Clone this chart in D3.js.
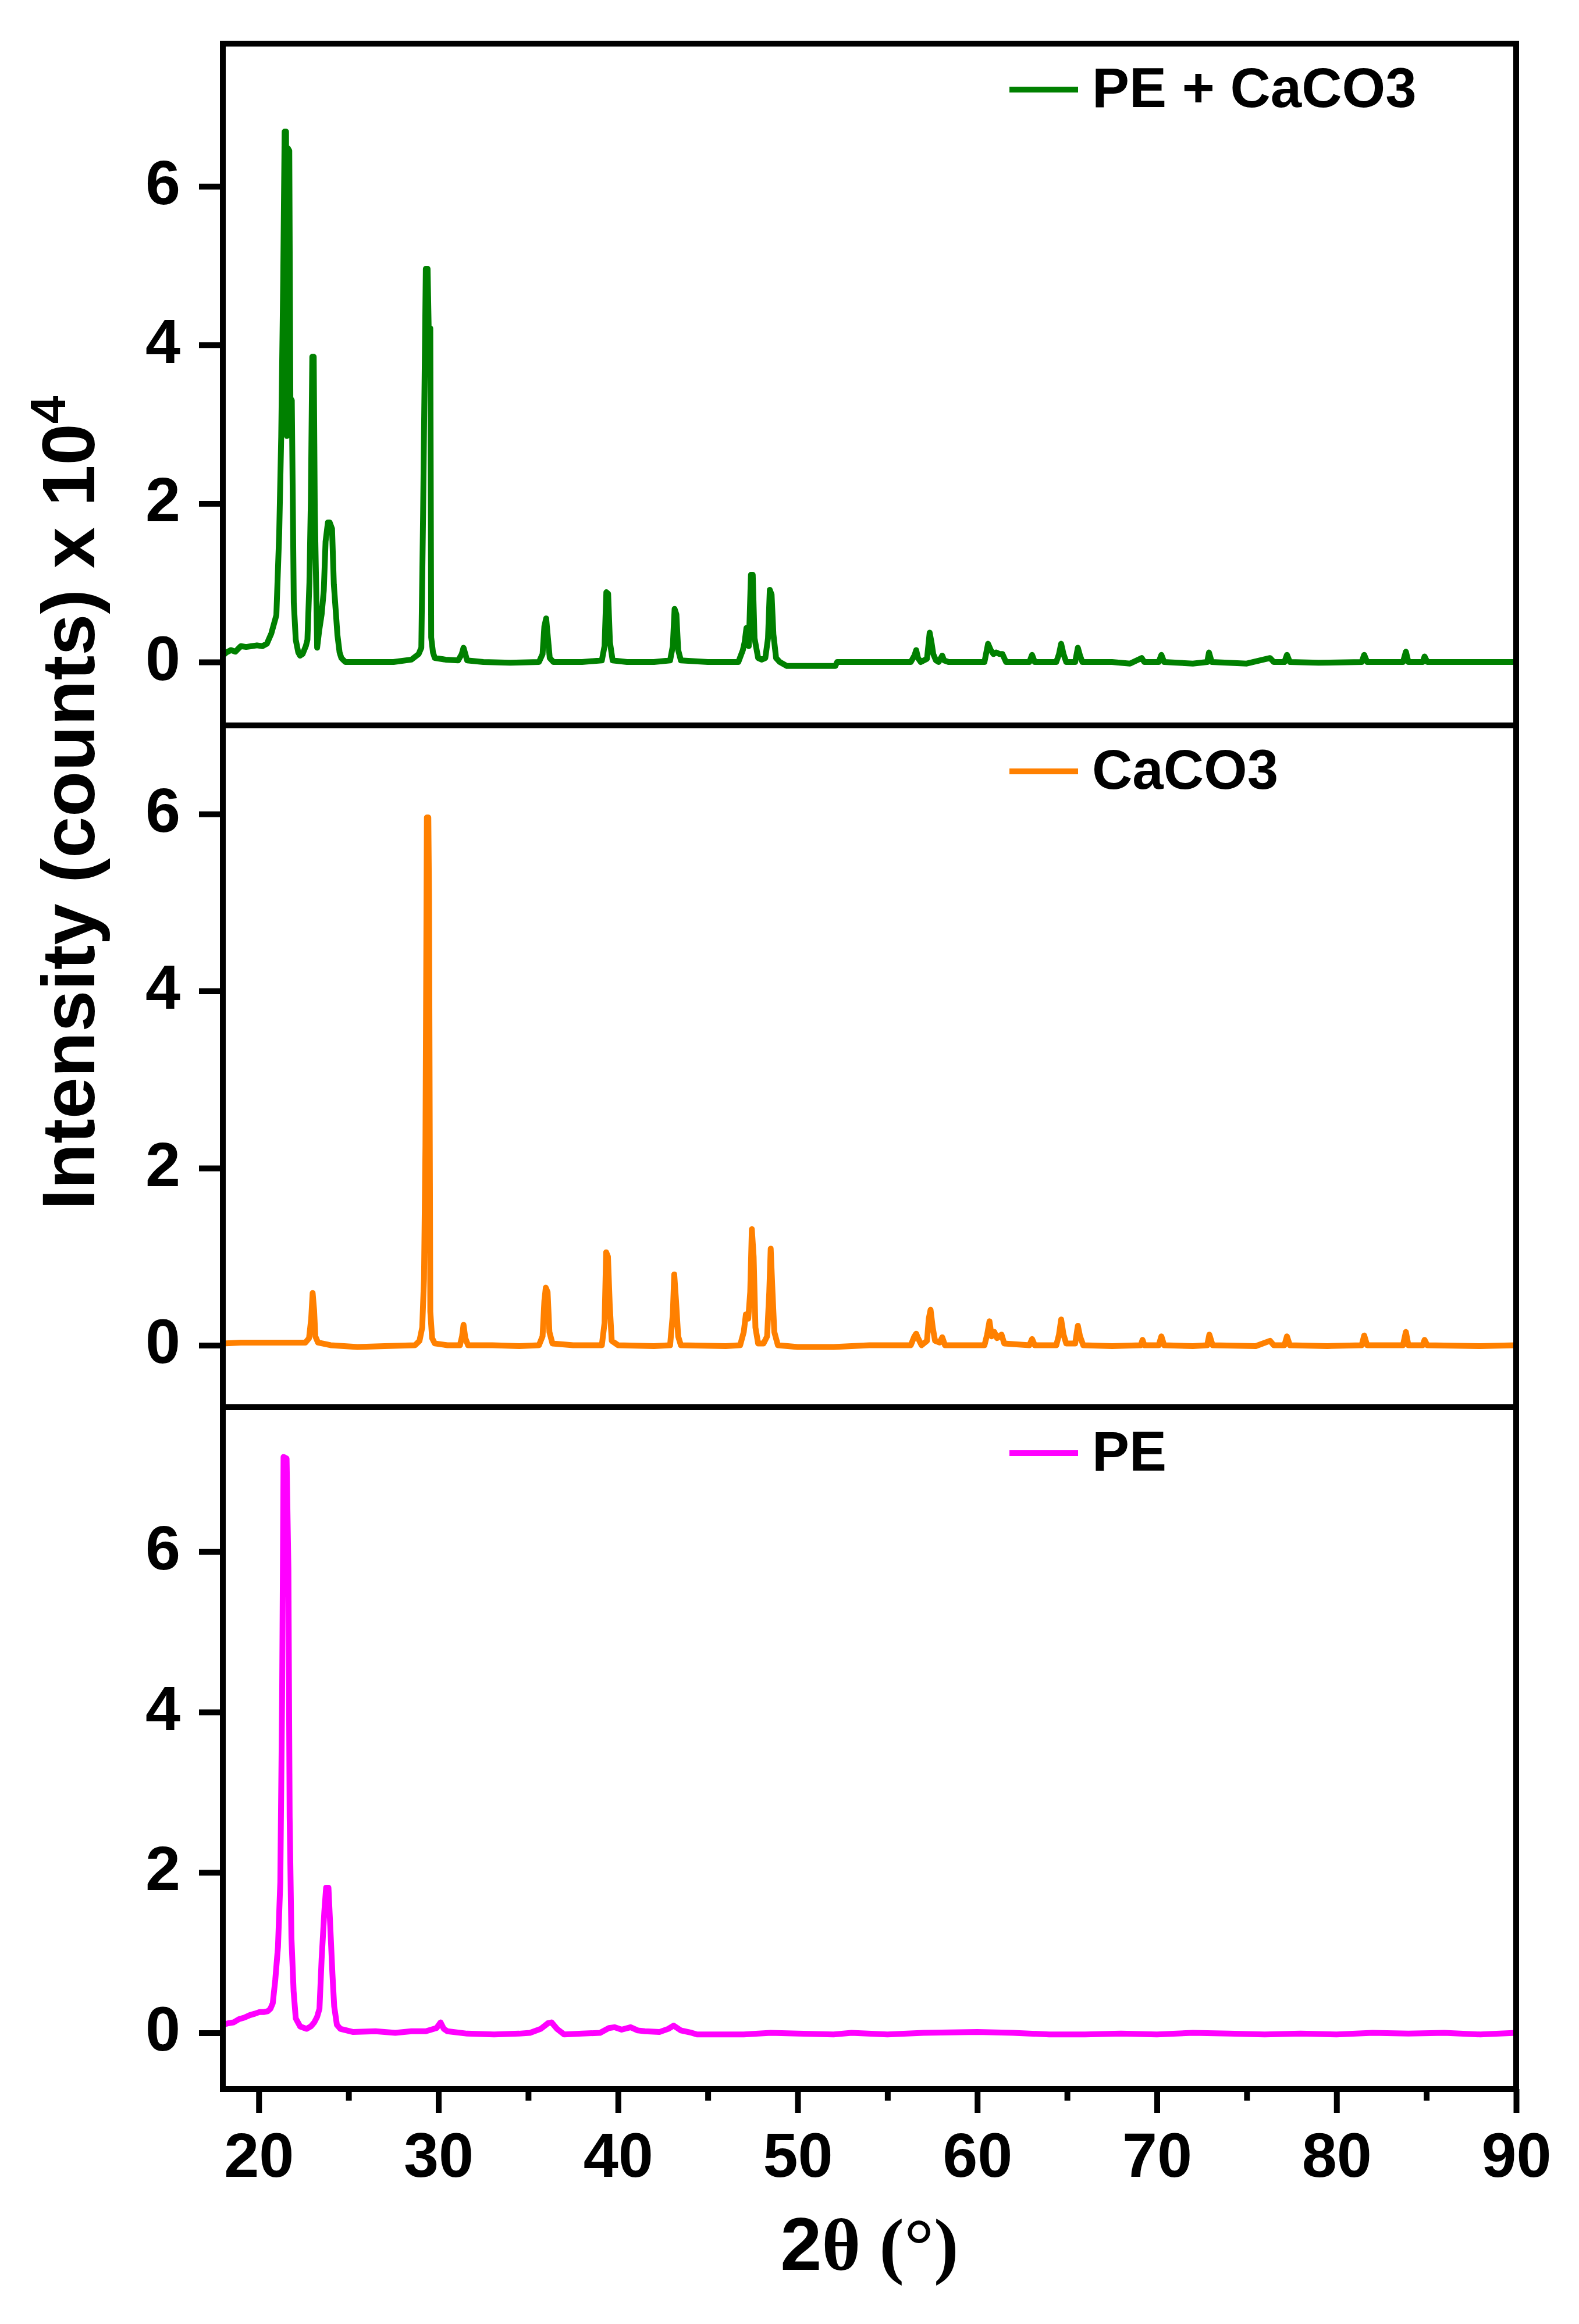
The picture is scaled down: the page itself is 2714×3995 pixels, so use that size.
<!DOCTYPE html>
<html>
<head>
<meta charset="utf-8">
<title>XRD PE / CaCO3</title>
<script src="https://cdnjs.cloudflare.com/ajax/libs/d3/7.8.5/d3.min.js"></script>
<style>
    body { margin: 0; background: #ffffff; }
    text { font-family: "Liberation Sans", Arial, sans-serif; font-weight: bold; fill: #000; }
</style>
</head>
<body>
<div id="chart"></div>
<script>

// ---- data (2theta in degrees, intensity in counts x 10^4) ----
let xTicks = [20, 30, 40, 50, 60, 70, 80, 90];
let xMinorTicks = [25, 35, 45, 55, 65, 75, 85];
let yTicks = [0, 2, 4, 6];

let seriesNames = ["PE + CaCO3", "CaCO3", "PE"];
let seriesColors = ["#008000", "#FF8000", "#FF00FF"];
let yDomains = [[-0.8, 7.8], [-0.7, 7.0], [-0.7, 7.8]];

let pecaco3 = [
    [18.0,0.08],[18.2,0.12],[18.45,0.15],[18.7,0.13],[19.0,0.2],[19.3,0.19],[19.6,0.2],[19.9,0.21],
    [20.2,0.2],[20.45,0.23],[20.7,0.36],[20.98,0.59],[21.14,1.63],[21.25,2.84],[21.36,4.8],[21.44,6.69],
    [21.52,6.69],[21.57,2.85],[21.62,6.48],[21.7,6.45],[21.76,3.33],[21.84,3.3],[21.95,0.75],[22.06,0.28],
    [22.2,0.12],[22.3,0.08],[22.44,0.1],[22.62,0.2],[22.71,0.28],[22.82,1.0],[22.9,2.04],[22.98,3.85],
    [23.06,3.85],[23.12,1.91],[23.2,0.9],[23.25,0.18],[23.36,0.39],[23.5,0.6],[23.62,0.9],[23.72,1.52],
    [23.85,1.76],[23.95,1.76],[24.08,1.68],[24.18,0.98],[24.3,0.6],[24.38,0.34],[24.5,0.12],[24.6,0.05],
    [24.82,0.0],[26.0,0.0],[27.5,0.0],[28.5,0.03],[28.9,0.1],[29.05,0.18],[29.15,1.88],[29.3,4.96],
    [29.4,4.96],[29.46,4.21],[29.55,4.21],[29.6,0.31],[29.7,0.12],[29.8,0.05],[30.4,0.03],[31.1,0.02],
    [31.3,0.1],[31.4,0.18],[31.5,0.1],[31.6,0.02],[32.5,0.0],[34.0,-0.01],[35.6,0.0],[35.8,0.1],
    [35.9,0.45],[36.0,0.55],[36.1,0.3],[36.2,0.05],[36.4,0.0],[38.0,0.0],[39.1,0.02],[39.25,0.2],
    [39.35,0.88],[39.45,0.86],[39.55,0.25],[39.7,0.02],[40.5,0.0],[42.0,0.0],[42.9,0.02],[43.05,0.2],
    [43.15,0.67],[43.25,0.6],[43.35,0.15],[43.5,0.02],[45.0,0.0],[46.7,0.0],[46.95,0.15],[47.05,0.25],
    [47.15,0.43],[47.28,0.2],[47.4,1.1],[47.5,1.1],[47.6,0.3],[47.8,0.05],[48.0,0.03],[48.2,0.05],
    [48.35,0.3],[48.45,0.91],[48.55,0.85],[48.65,0.35],[48.8,0.05],[49.0,0.0],[49.4,-0.05],[52.1,-0.05],
    [52.2,0.0],[54.0,0.0],[56.3,0.0],[56.5,0.08],[56.6,0.15],[56.7,0.05],[56.85,0.0],[57.2,0.04],
    [57.35,0.37],[57.45,0.25],[57.55,0.1],[57.7,0.02],[57.85,0.0],[58.05,0.08],[58.15,0.02],[58.4,0.0],
    [60.4,0.0],[60.6,0.23],[60.75,0.15],[60.9,0.1],[61.05,0.12],[61.25,0.1],[61.4,0.1],[61.6,0.0],
    [62.9,0.0],[63.05,0.09],[63.2,0.0],[64.4,0.0],[64.55,0.1],[64.67,0.23],[64.8,0.1],[64.95,0.0],
    [65.45,0.0],[65.6,0.18],[65.72,0.08],[65.85,0.0],[67.5,0.0],[68.5,-0.02],[69.15,0.05],[69.3,0.0],
    [70.1,0.0],[70.25,0.09],[70.4,0.0],[72.0,-0.02],[72.8,0.0],[72.9,0.12],[73.05,0.0],[75.0,-0.02],
    [76.3,0.05],[76.5,0.0],[77.1,0.0],[77.24,0.09],[77.4,0.0],[79.0,-0.01],[81.4,0.0],[81.54,0.09],
    [81.7,0.0],[83.7,0.0],[83.86,0.13],[84.0,0.0],[84.8,0.0],[84.9,0.07],[85.05,0.0],[90.0,0.0]
];

let caco3 = [
    [18.0,0.02],[19.0,0.03],[20.2,0.03],[21.5,0.03],[22.6,0.03],[22.8,0.08],[22.92,0.3],[23.0,0.59],
    [23.08,0.4],[23.15,0.1],[23.3,0.03],[24.0,0.0],[25.5,-0.02],[27.0,-0.01],[28.7,0.0],[28.95,0.05],
    [29.1,0.2],[29.2,0.75],[29.28,2.26],[29.36,5.96],[29.44,5.96],[29.48,5.05],[29.55,0.38],[29.65,0.08],
    [29.8,0.02],[30.5,0.0],[31.2,0.0],[31.32,0.1],[31.4,0.23],[31.5,0.08],[31.65,0.0],[33.0,0.0],
    [34.5,-0.01],[35.6,0.0],[35.8,0.1],[35.9,0.5],[35.98,0.65],[36.08,0.6],[36.18,0.15],[36.35,0.02],
    [37.5,0.0],[39.1,0.0],[39.25,0.25],[39.34,1.05],[39.44,1.0],[39.54,0.45],[39.65,0.05],[40.0,0.0],
    [42.0,-0.01],[42.9,0.0],[43.05,0.35],[43.13,0.8],[43.23,0.5],[43.35,0.1],[43.5,0.0],[46.0,-0.01],
    [46.8,0.0],[47.0,0.15],[47.12,0.35],[47.25,0.3],[47.36,0.6],[47.45,1.31],[47.55,1.0],[47.65,0.2],
    [47.8,0.02],[48.1,0.02],[48.3,0.1],[48.42,0.6],[48.5,1.09],[48.6,0.6],[48.7,0.15],[48.9,0.0],
    [50.0,-0.02],[52.0,-0.02],[54.0,0.0],[56.3,0.0],[56.5,0.1],[56.6,0.13],[56.7,0.08],[56.9,0.0],
    [57.2,0.05],[57.3,0.3],[57.4,0.4],[57.52,0.2],[57.65,0.05],[57.9,0.03],[58.05,0.09],[58.2,0.0],
    [60.4,0.0],[60.55,0.12],[60.68,0.27],[60.8,0.1],[60.95,0.15],[61.1,0.08],[61.35,0.12],[61.5,0.02],
    [62.9,0.0],[63.05,0.07],[63.2,0.0],[64.4,0.0],[64.55,0.12],[64.67,0.29],[64.8,0.12],[64.95,0.02],
    [65.45,0.02],[65.6,0.22],[65.72,0.1],[65.9,0.0],[67.5,-0.01],[69.1,0.0],[69.2,0.06],[69.3,0.0],
    [70.1,0.0],[70.25,0.1],[70.4,0.0],[72.0,-0.01],[72.8,0.0],[72.92,0.12],[73.1,0.0],[75.5,-0.01],
    [76.3,0.05],[76.5,0.0],[77.1,0.0],[77.24,0.1],[77.4,0.0],[79.5,-0.01],[81.4,0.0],[81.54,0.11],
    [81.7,0.0],[83.7,0.0],[83.86,0.15],[84.0,0.0],[84.8,0.0],[84.9,0.06],[85.05,0.0],[88.0,-0.01],
    [90.0,0.0]
];

let pe = [
    [18.0,0.1],[18.3,0.12],[18.6,0.13],[18.9,0.17],[19.2,0.19],[19.5,0.22],[19.8,0.24],[20.05,0.26],
    [20.3,0.26],[20.5,0.27],[20.65,0.3],[20.78,0.37],[20.92,0.66],[21.07,1.07],[21.2,1.88],[21.3,4.17],
    [21.38,7.18],[21.55,7.16],[21.65,5.79],[21.72,2.69],[21.82,1.18],[21.94,0.52],[22.06,0.18],[22.3,0.08],
    [22.66,0.05],[22.9,0.08],[23.09,0.13],[23.25,0.2],[23.38,0.3],[23.5,0.92],[23.65,1.51],[23.75,1.81],
    [23.88,1.81],[23.98,1.33],[24.1,0.74],[24.2,0.33],[24.35,0.1],[24.54,0.05],[25.26,0.01],[26.5,0.02],
    [27.6,0.0],[28.5,0.02],[29.3,0.02],[29.9,0.06],[30.12,0.13],[30.3,0.05],[30.5,0.02],[31.6,-0.01],
    [33.1,-0.02],[34.5,-0.01],[35.1,0.0],[35.7,0.05],[36.1,0.12],[36.3,0.13],[36.6,0.05],[37.0,-0.02],
    [38.0,-0.01],[39.0,0.0],[39.5,0.06],[39.8,0.07],[40.2,0.04],[40.7,0.07],[41.1,0.03],[41.5,0.02],
    [42.3,0.01],[42.8,0.05],[43.1,0.09],[43.5,0.03],[44.1,0.0],[44.4,-0.02],[47.0,-0.02],[48.5,0.0],
    [50.0,-0.01],[52.0,-0.02],[53.0,0.0],[55.0,-0.02],[57.0,0.0],[60.0,0.01],[62.0,0.0],[64.0,-0.02],
    [66.0,-0.02],[68.0,-0.01],[70.0,-0.02],[72.0,0.0],[74.0,-0.01],[76.0,-0.02],[78.0,-0.01],[80.0,-0.02],
    [82.0,0.0],[84.0,-0.01],[86.0,0.0],[88.0,-0.02],[90.0,0.0]
];

let seriesData = [pecaco3, caco3, pe];


class StackedXrd {

    constructor(parentElement) {
        this.parentElement = parentElement;
        this.initVis();
    }

    initVis() {
        let vis = this;

        vis.fullWidth = 2714;
        vis.fullHeight = 3995;
        vis.left = 383;
        vis.right = 2606;
        vis.top = 75;
        vis.panelHeight = 1172;
        vis.frameWidth = 10;

        vis.svg = d3.select("#" + vis.parentElement).append("svg")
            .attr("width", vis.fullWidth)
            .attr("height", vis.fullHeight);

        // shared x scale
        vis.x = d3.scaleLinear()
            .domain([18, 90])
            .range([vis.left, vis.right]);

        vis.line = d3.line()
            .x(d => vis.x(d[0]));

        vis.updateVis();
    }

    updateVis() {
        let vis = this;

        seriesNames.forEach((name, i) => {
            let y0 = vis.top + i * vis.panelHeight;
            let y = d3.scaleLinear()
                .domain(yDomains[i])
                .range([y0 + vis.panelHeight, y0]);

            let g = vis.svg.append("g").attr("class", "panel panel-" + i);

            // clip so the trace stays inside its box
            g.append("clipPath").attr("id", "clip-" + i)
                .append("rect")
                .attr("x", vis.left).attr("y", y0)
                .attr("width", vis.right - vis.left)
                .attr("height", vis.panelHeight);

            // trace
            g.append("path")
                .datum(seriesData[i])
                .attr("clip-path", `url(#clip-${i})`)
                .attr("fill", "none")
                .attr("stroke", seriesColors[i])
                .attr("stroke-width", 10)
                .attr("stroke-linejoin", "round")
                .attr("d", vis.line.y(d => y(d[1])));

            // y axis
            let yAxis = g.append("g")
                .attr("class", "axis y-axis")
                .attr("transform", `translate(${vis.left}, 0)`)
                .call(d3.axisLeft(y).tickValues(yTicks).tickSize(41).tickSizeOuter(0).tickPadding(32));
            vis.styleAxis(yAxis);
            yAxis.selectAll("text").attr("dy", "0.28em");

            // frame
            g.append("rect")
                .attr("x", vis.left).attr("y", y0)
                .attr("width", vis.right - vis.left)
                .attr("height", vis.panelHeight)
                .attr("fill", "none")
                .attr("stroke", "#000")
                .attr("stroke-width", vis.frameWidth);

            // legend
            let ly = y0 + 79;
            g.append("line")
                .attr("x1", 1735).attr("x2", 1853)
                .attr("y1", ly).attr("y2", ly)
                .attr("stroke", seriesColors[i])
                .attr("stroke-width", 10);
            g.append("text")
                .attr("x", 1877).attr("y", ly + 30)
                .style("font-size", "96px")
                .text(name);
        });

        // x axis on the bottom panel only
        let bottom = vis.top + 3 * vis.panelHeight;

        let xAxis = vis.svg.append("g")
            .attr("class", "axis x-axis")
            .attr("transform", `translate(0, ${bottom})`)
            .call(d3.axisBottom(vis.x).tickValues(xTicks).tickSize(41).tickSizeOuter(0).tickPadding(33));
        vis.styleAxis(xAxis);

        let xMinor = vis.svg.append("g")
            .attr("class", "axis x-minor")
            .attr("transform", `translate(0, ${bottom})`)
            .call(d3.axisBottom(vis.x).tickValues(xMinorTicks).tickSize(20).tickSizeOuter(0).tickFormat(""));
        vis.styleAxis(xMinor);

        // axis titles
        vis.svg.append("text")
            .attr("transform", "translate(162, 1380) rotate(-90)")
            .attr("text-anchor", "middle")
            .style("font-size", "128px")
            .text("Intensity (counts) x 10")
            .append("tspan")
            .attr("dy", -50)
            .style("font-size", "86px")
            .text("4");

        let xTitle = vis.svg.append("text")
            .attr("x", (vis.left + vis.right) / 2)
            .attr("y", 3902)
            .attr("text-anchor", "middle")
            .style("font-size", "128px");
        xTitle.append("tspan").text("2");
        xTitle.append("tspan")
            .style("font-family", '"Liberation Serif", "Times New Roman", serif')
            .style("font-weight", "bold")
            .text("\u03B8 (\u00B0)");
    }

    styleAxis(sel) {
        sel.select(".domain").remove();
        sel.selectAll(".tick line")
            .attr("stroke", "#000")
            .attr("stroke-width", 10);
        sel.selectAll(".tick text")
            .style("font-size", "108px")
            .style("font-family", '"Liberation Sans", Arial, sans-serif')
            .style("font-weight", "bold")
            .attr("fill", "#000");
    }
}

new StackedXrd("chart");

</script>
</body>
</html>
